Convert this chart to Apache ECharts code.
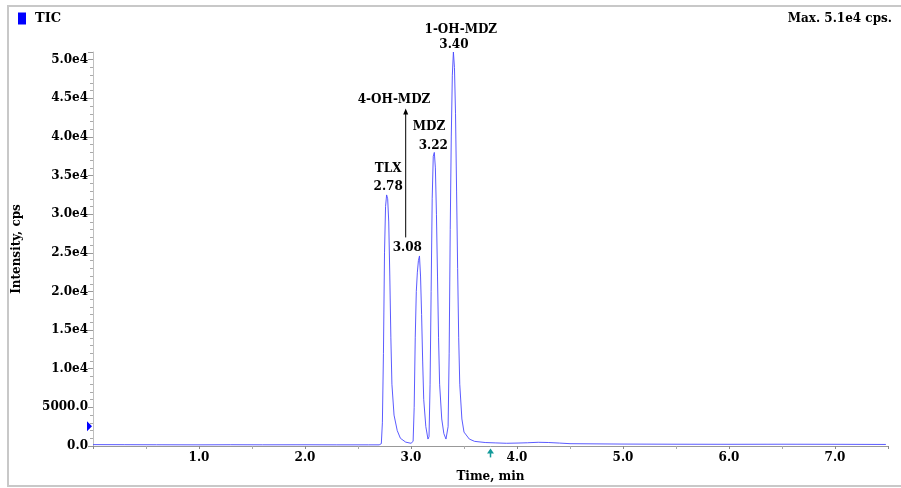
<!DOCTYPE html>
<html>
<head>
<meta charset="utf-8">
<script src="https://cdn.jsdelivr.net/npm/echarts@6/dist/echarts.min.js"></script>
<style>
html,body{margin:0;padding:0;background:#fff;}
#c{width:901px;height:488px;}
</style>
</head>
<body>
<div id="c"></div>
<script>
// Retention time (min)
var times = [0.00,0.30,0.60,1.00,1.30,1.60,2.00,2.30,2.60,2.70,2.72,2.73,2.74,2.75,2.76,2.77,2.78,2.79,2.80,2.81,2.82,2.84,2.87,2.90,2.95,3.00,
  3.02,3.03,3.04,3.05,3.06,3.07,3.08,3.09,3.10,3.11,3.12,3.14,3.16,
  3.17,3.18,3.19,3.20,3.21,3.22,3.23,3.24,3.25,3.26,3.27,3.29,3.31,3.33,
  3.35,3.36,3.37,3.38,3.39,3.40,3.41,3.42,3.43,3.44,3.45,3.46,3.48,3.50,3.55,3.60,3.70,3.80,3.90,4.00,4.10,4.20,4.30,4.40,4.50,5.00,5.50,6.00,6.50,7.00,7.48];
// TIC intensity (cps)
var intensity = [180,170,160,150,165,155,160,150,150,150,300,3000,12000,25000,31000,32500,32000,29000,22000,14000,8000,4000,2000,1000,500,350,
  600,5000,14000,20000,22500,24000,24600,22000,17000,11000,6000,2500,900,
  1200,8000,20000,32000,37500,38000,36000,30000,22000,14000,8000,3500,1600,900,
  2500,12000,28000,40000,48000,51000,49000,43000,33000,23000,14000,8000,3500,1800,900,600,450,400,350,380,420,480,450,380,300,250,230,220,230,220,200];
var yTicks = [0,5000,10000,15000,20000,25000,30000,35000,40000,45000,50000];
var xTicks = [1,2,3,4,5,6,7];
// Peak annotations: [time, intensity, text]
var peakNames = [[3.47,53800,'1-OH-MDZ'],[2.84,44800,'4-OH-MDZ'],[3.17,41300,'MDZ'],[2.785,35900,'TLX']];
var peakTimes = [[3.405,51900,'3.40'],[3.21,38800,'3.22'],[2.785,33600,'2.78'],[2.965,25600,'3.08']];
// 4-OH-MDZ arrow, from/to [time, intensity]
var arrowFrom = [2.95,27000];
var arrowTo = [2.95,43700];
var markerTriangle = [0,2560];
var markerArrow = [3.75,-700];

var FONT = 'DejaVu Serif';
var chart = echarts.init(document.getElementById('c'));
var seriesData = times.map(function(t,i){return [t,intensity[i]];});

chart.setOption({
  animation:false,
  backgroundColor:'#fff',
  title:{text:'Max. 5.1e4 cps.',right:4,top:8,
    textStyle:{fontFamily:FONT,fontWeight:'bold',fontSize:12,color:'#000'}},
  legend:{left:13,top:7,icon:'rect',itemWidth:8,itemHeight:12,itemGap:9,
    textStyle:{fontFamily:FONT,fontWeight:'bold',fontSize:13,color:'#000',padding:[0,0,0,4]},
    data:['TIC']},
  grid:{left:93,right:13,top:52,bottom:38},
  xAxis:{type:'value',min:0,max:7.5,interval:1,
    name:'Time, min',nameLocation:'middle',nameGap:25,
    nameTextStyle:{fontFamily:FONT,fontWeight:'bold',fontSize:12,color:'#000'},
    axisLine:{show:true,lineStyle:{color:'#999',width:1}},
    axisTick:{show:true,length:3,lineStyle:{color:'#888'}},
    minorTick:{show:true,splitNumber:2,length:3,lineStyle:{color:'#aaa'}},
    splitLine:{show:false},
    axisLabel:{margin:6,fontFamily:FONT,fontWeight:'bold',fontSize:12,color:'#000',
      showMaxLabel:false,
      formatter:function(v){return xTicks.indexOf(v)>=0?v.toFixed(1):'';}}
  },
  yAxis:{type:'value',min:0,max:51000,interval:5000,
    name:'Intensity, cps',nameLocation:'middle',nameGap:70,
    nameTextStyle:{fontFamily:FONT,fontWeight:'bold',fontSize:12,color:'#000'},
    axisLine:{show:true,lineStyle:{color:'#c0c0c0',width:1}},
    axisTick:{show:true,length:5,lineStyle:{color:'#999'}},
    minorTick:{show:true,splitNumber:5,length:3,lineStyle:{color:'#aaa'}},
    splitLine:{show:false},
    axisLabel:{margin:5,fontFamily:FONT,fontWeight:'bold',fontSize:12,color:'#000',
      showMaxLabel:false,
      formatter:function(v){
        if(yTicks.indexOf(v)<0) return '';
        if(v===0) return '0.0';
        if(v===5000) return '5000.0';
        return (v/10000).toFixed(1)+'e4';
      }}
  },
  series:[{
    name:'TIC',type:'line',data:seriesData,showSymbol:false,symbol:'none',
    sampling:null,clip:true,
    itemStyle:{color:'#0000ff'},
    lineStyle:{color:'#4848ff',width:0.9}
  }]
});

function px(p){return chart.convertToPixel({gridIndex:0},[p[0],p[1]]);}
var g = [];
g.push({type:'rect',shape:{x:8,y:6,width:1000,height:480},
  style:{fill:'none',stroke:'#c8c8c8',lineWidth:2},silent:true,z:-1});
peakNames.concat(peakTimes).forEach(function(a){
  var p = px(a);
  g.push({type:'text',x:p[0],y:p[1],
    style:{text:a[2],fontFamily:FONT,fontWeight:'bold',fontSize:12,fill:'#000',
      align:'center',verticalAlign:'middle'}});
});
var pa = px(arrowFrom), pb = px(arrowTo);
g.push({type:'line',shape:{x1:pa[0],y1:pa[1],x2:pb[0],y2:pb[1]+3},
  style:{stroke:'#000',lineWidth:1}});
g.push({type:'polygon',shape:{points:[[pb[0],pb[1]],[pb[0]-2.5,pb[1]+6],[pb[0]+2.5,pb[1]+6]]},
  style:{fill:'#000'}});
var pt = px(markerTriangle);
g.push({type:'polygon',shape:{points:[[pt[0]-6,pt[1]-5],[pt[0]-1,pt[1]],[pt[0]-6,pt[1]+5]]},
  style:{fill:'#0000ff'}});
var pm = px(markerArrow);
g.push({type:'polygon',shape:{points:[[pm[0],pm[1]-3],[pm[0]-3.5,pm[1]+2],[pm[0]+3.5,pm[1]+2]]},
  style:{fill:'#139a9a'}});
g.push({type:'line',shape:{x1:pm[0],y1:pm[1],x2:pm[0],y2:pm[1]+6},
  style:{stroke:'#139a9a',lineWidth:1.5}});
chart.setOption({graphic:g});
</script>
</body>
</html>
